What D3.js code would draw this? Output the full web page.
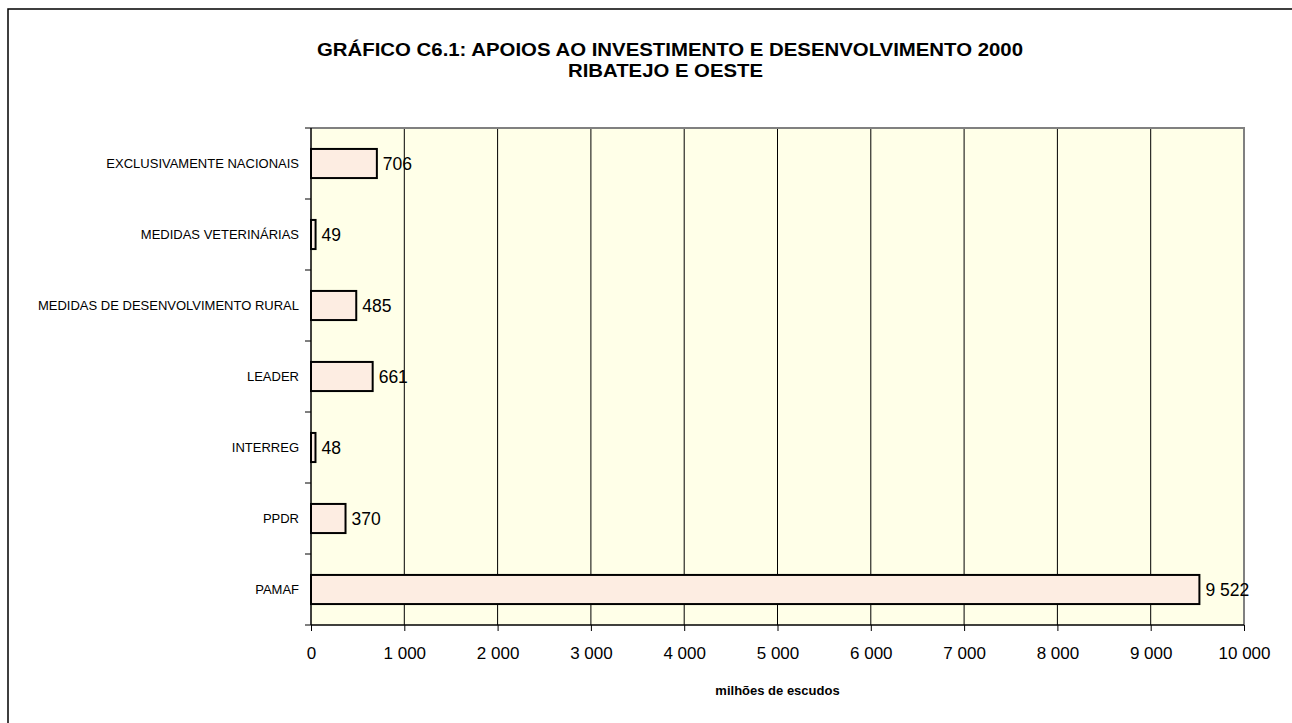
<!DOCTYPE html>
<html><head><meta charset="utf-8">
<script src="https://cdn.jsdelivr.net/npm/d3@7"></script>
<style>body{margin:0;background:#fff}svg{display:block}text{font-family:"Liberation Sans",Arial,sans-serif}</style>
</head><body>
<svg id="c" width="1292" height="723"></svg>
<script>
const categories = ["EXCLUSIVAMENTE NACIONAIS","MEDIDAS VETERINÁRIAS","MEDIDAS DE DESENVOLVIMENTO RURAL","LEADER","INTERREG","PPDR","PAMAF"];
const values = [706, 49, 485, 661, 48, 370, 9522];
const xTicks = [0,1000,2000,3000,4000,5000,6000,7000,8000,9000,10000];
const titleLines = ["GRÁFICO C6.1: APOIOS AO INVESTIMENTO E DESENVOLVIMENTO 2000","RIBATEJO E OESTE"];
const xTitle = "milhões de escudos";

const svg = d3.select("#c");
const m = {l:311, r:1244, t:128, b:625};
const fmt = v => d3.format(",")(v).replace(/,/g," ");

svg.append("rect").attr("x",8).attr("y",9).attr("width",1300).attr("height",800)
  .attr("fill","#fff").attr("stroke","#000").attr("stroke-width",1.5);

const x = d3.scaleLinear().domain([0,10000]).range([m.l,m.r]);
const y = d3.scaleBand().domain(categories).range([m.t,m.b]).paddingInner(0.59).paddingOuter(0.295);
const yb = d3.scaleBand().domain(categories).range([m.t,m.b]);

svg.append("rect").attr("x",m.l).attr("y",m.t).attr("width",m.r-m.l).attr("height",m.b-m.t).attr("fill","#FFFFE8");

// gridlines
svg.append("g").selectAll("line").data(xTicks.slice(1,-1)).join("line")
  .attr("x1",d=>x(d)).attr("x2",d=>x(d)).attr("y1",m.t).attr("y2",m.b)
  .attr("stroke","#000").attr("stroke-width",1);

// plot border top/right gray
svg.append("path").attr("d",`M${m.l},${m.t}H${m.r}V${m.b}`).attr("fill","none").attr("stroke","#808080").attr("stroke-width",2);

// bars
svg.append("g").selectAll("rect").data(values).join("rect")
  .attr("x",x(0)).attr("y",(d,i)=>y(categories[i])).attr("width",d=>x(d)-x(0)).attr("height",y.bandwidth())
  .attr("fill","#FDEDE2").attr("stroke","#000").attr("stroke-width",2);

// value labels
svg.append("g").selectAll("text").data(values).join("text")
  .attr("x",d=>x(d)+6).attr("y",(d,i)=>y(categories[i])+y.bandwidth()/2).attr("dy","0.36em")
  .attr("font-size",17.5).attr("fill","#000").text(d=>fmt(d));

// y axis
const yAxis = svg.append("g").attr("transform",`translate(${m.l},0)`);
yAxis.append("line").attr("x1",0).attr("x2",0).attr("y1",m.t).attr("y2",m.b).attr("stroke","#000").attr("stroke-width",1.5);
const yTickPos = categories.map(c=>yb(c)).concat([m.b]);
yAxis.selectAll("line.t").data(yTickPos).join("line").attr("class","t")
  .attr("x1",-6).attr("x2",0).attr("y1",d=>d).attr("y2",d=>d).attr("stroke","#000");
yAxis.selectAll("text").data(categories).join("text")
  .attr("x",-12).attr("y",d=>yb(d)+yb.bandwidth()/2).attr("dy","0.36em").attr("text-anchor","end")
  .attr("font-size",13).text(d=>d);

// x axis
const xAxis = svg.append("g").attr("transform",`translate(0,${m.b})`)
  .call(d3.axisBottom(x).tickValues(xTicks).tickSize(6).tickPadding(16).tickFormat(fmt));
xAxis.select(".domain").attr("stroke","#000").attr("stroke-width",1.5).attr("d",`M${m.l},0H${m.r}`);
xAxis.selectAll(".tick text").attr("font-size",17).attr("font-family","Liberation Sans, Arial, sans-serif").attr("fill","#000");

svg.append("text").attr("x",(m.l+m.r)/2).attr("y",695).attr("text-anchor","middle")
  .attr("font-size",13).attr("font-weight","bold").text(xTitle);

// title
svg.append("text").attr("x",670).attr("y",56).attr("text-anchor","middle")
  .attr("font-size",19).attr("font-weight","bold").attr("textLength",706).attr("lengthAdjust","spacingAndGlyphs").text(titleLines[0]);
svg.append("text").attr("x",665.5).attr("y",77).attr("text-anchor","middle")
  .attr("font-size",19).attr("font-weight","bold").attr("textLength",195).attr("lengthAdjust","spacingAndGlyphs").text(titleLines[1]);
</script>
</body></html>
